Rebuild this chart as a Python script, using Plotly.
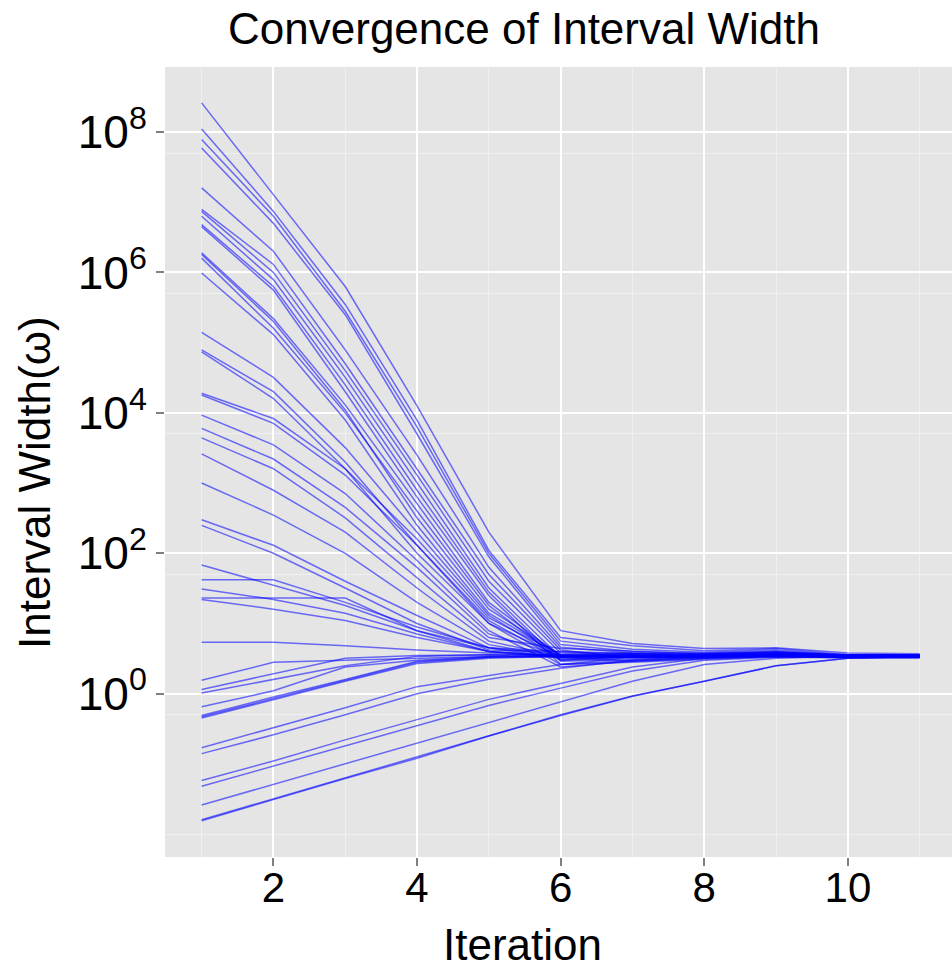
import plotly.graph_objects as go

iterations = [1, 2, 3, 4, 5, 6, 7, 8, 9, 10, 11]

wide_start_runs = [
    [2.6e8, 1.26e7, 6.3e5, 1.26e4, 2.0e2, 7.9, 5.2, 4.4, 4.5, 3.8, 3.7],
    [1.1e8, 7.4e6, 3.5e5, 7.9e3, 1.1e2, 6.3, 4.8, 4.1, 4.4, 3.6, 3.6],
    [7.8e7, 6.3e6, 2.8e5, 6.3e3, 1.0e2, 5.6, 4.3, 3.9, 4.2, 3.5, 3.5],
    [5.9e7, 5.0e6, 2.5e5, 5.0e3, 89, 5.0, 4.0, 3.7, 4.0, 3.4, 3.4],
    [1.6e7, 2.0e6, 7.9e4, 2.5e3, 63, 4.6, 3.8, 3.5, 3.8, 3.5, 3.5],
    [7.9e6, 1.3e6, 5.0e4, 1.6e3, 50, 4.2, 3.2, 3.3, 3.7, 3.3, 3.3],
    [7.4e6, 1.0e6, 4.0e4, 1.3e3, 40, 3.8, 3.6, 3.6, 3.9, 3.6, 3.5],
    [6.3e6, 7.9e5, 3.2e4, 1.0e3, 32, 3.3, 2.9, 3.2, 3.5, 3.3, 3.3],
    [4.8e6, 6.3e5, 2.5e4, 7.9e2, 28, 2.9, 3.1, 3.4, 3.6, 3.4, 3.4],
    [4.5e6, 5.6e5, 2.0e4, 6.3e2, 25, 2.6, 2.8, 3.1, 3.4, 3.2, 3.2],
    [1.9e6, 2.2e5, 1.3e4, 5.0e2, 20, 3.4, 3.7, 3.8, 4.0, 3.6, 3.6],
    [1.8e6, 2.0e5, 1.1e4, 3.2e2, 16, 3.6, 3.5, 3.4, 3.6, 3.4, 3.4],
    [1.6e6, 1.6e5, 1.0e4, 4.0e2, 18, 3.0, 3.3, 3.5, 3.7, 3.5, 3.5],
    [9.8e5, 1.3e5, 7.9e3, 2.5e2, 14, 3.5, 3.4, 3.3, 3.5, 3.3, 3.3],
    [1.4e5, 3.2e4, 3.2e3, 2.0e2, 13, 3.1, 3.3, 3.6, 3.8, 3.5, 3.5],
]

mid_start_runs = [
    [7.9e4, 2.0e4, 2.0e3, 1.3e2, 11, 3.0, 3.4, 3.7, 3.9, 3.5, 3.5],
    [7.4e4, 1.6e4, 1.6e3, 1.0e2, 10, 2.6, 3.0, 3.3, 3.6, 3.4, 3.4],
    [1.9e4, 8.3e3, 1.6e3, 1.6e2, 12, 3.6, 3.8, 3.6, 3.7, 3.5, 3.5],
    [1.8e4, 7.1e3, 1.3e3, 1.3e2, 10, 3.4, 3.5, 3.3, 3.5, 3.4, 3.4],
    [9.3e3, 3.5e3, 7.1e2, 79, 7.9, 2.4, 2.9, 3.2, 3.4, 3.3, 3.3],
    [6.0e3, 2.2e3, 4.5e2, 63, 7.1, 3.5, 3.6, 3.4, 3.6, 3.4, 3.4],
    [4.4e3, 1.6e3, 3.2e2, 45, 6.3, 4.4, 4.0, 3.7, 3.8, 3.5, 3.5],
    [2.6e3, 7.9e2, 2.0e2, 32, 5.6, 3.4, 3.5, 3.4, 3.5, 3.4, 3.4],
    [1.0e3, 3.5e2, 1.0e2, 20, 5.0, 3.3, 3.4, 3.5, 3.6, 3.5, 3.5],
    [3.0e2, 1.3e2, 40, 13, 4.5, 3.2, 3.4, 3.4, 3.5, 3.4, 3.4],
    [2.5e2, 1.0e2, 32, 10, 4.2, 3.9, 3.7, 3.5, 3.6, 3.5, 3.5],
    [68, 35, 18, 7.9, 4.0, 3.5, 3.4, 3.4, 3.5, 3.4, 3.4],
    [42, 42, 20, 8.9, 4.5, 3.6, 3.5, 3.4, 3.6, 3.4, 3.4],
    [31, 22, 14, 7.1, 4.0, 3.3, 3.4, 3.4, 3.5, 3.4, 3.4],
    [23, 23, 23, 7.9, 4.5, 4.0, 3.7, 3.5, 3.6, 3.5, 3.5],
    [22, 16, 11, 6.3, 4.0, 3.4, 3.4, 3.3, 3.5, 3.3, 3.3],
    [5.4, 5.4, 4.8, 4.2, 3.8, 3.5, 3.4, 3.4, 3.5, 3.4, 3.4],
]

narrow_start_runs = [
    [1.55, 2.8, 3.0, 3.2, 3.4, 3.5, 3.4, 3.4, 3.5, 3.4, 3.4],
    [1.15, 1.9, 3.2, 3.5, 3.6, 3.5, 3.4, 3.5, 3.6, 3.5, 3.5],
    [1.02, 1.6, 2.5, 3.4, 3.6, 3.5, 3.4, 3.4, 3.4, 3.4, 3.4],
    [0.65, 1.1, 2.4, 3.0, 3.4, 3.5, 3.4, 3.4, 3.5, 3.4, 3.4],
    [0.49, 0.90, 1.6, 2.9, 3.3, 3.4, 3.3, 3.3, 3.5, 3.3, 3.3],
    [0.47, 0.86, 1.55, 2.8, 3.3, 3.4, 3.4, 3.4, 3.5, 3.4, 3.4],
    [0.45, 0.83, 1.5, 2.7, 3.2, 3.4, 3.4, 3.4, 3.4, 3.4, 3.4],
    [0.17, 0.33, 0.63, 1.26, 1.8, 2.6, 3.3, 3.4, 3.5, 3.4, 3.4],
    [0.14, 0.26, 0.50, 1.0, 1.6, 2.3, 3.0, 3.3, 3.4, 3.4, 3.4],
    [0.058, 0.11, 0.22, 0.43, 0.83, 1.4, 2.4, 3.2, 3.4, 3.4, 3.4],
    [0.048, 0.093, 0.18, 0.35, 0.68, 1.2, 2.1, 3.0, 3.3, 3.4, 3.4],
    [0.026, 0.051, 0.10, 0.20, 0.39, 0.76, 1.5, 2.6, 3.2, 3.4, 3.4],
    [0.016, 0.032, 0.063, 0.126, 0.25, 0.50, 0.93, 1.5, 2.5, 3.2, 3.4],
    [0.0155, 0.031, 0.062, 0.12, 0.25, 0.49, 0.92, 1.5, 2.5, 3.2, 3.4],
]

y_tick_vals = [1, 1e2, 1e4, 1e6, 1e8]
y_tick_text = ["10<sup>0</sup>", "10<sup>2</sup>", "10<sup>4</sup>", "10<sup>6</sup>", "10<sup>8</sup>"]
y_minor_vals = [0.01, 0.5, 50, 5e3, 5e5, 5e7]
x_tick_vals = [2, 4, 6, 8, 10]
x_minor_vals = [1, 3, 5, 7, 9, 11]

FONT = "Liberation Sans, Arial, sans-serif"

fig = go.Figure()
for run in wide_start_runs + mid_start_runs + narrow_start_runs:
    fig.add_trace(go.Scatter(
        x=iterations, y=run, mode="lines",
        line=dict(color="rgba(0,0,255,0.55)", width=1.5),
        showlegend=False, hoverinfo="skip",
    ))

fig.update_layout(
    width=952, height=971,
    margin=dict(l=165, r=0, t=67, b=114),
    paper_bgcolor="white",
    plot_bgcolor="#E5E5E5",
    font=dict(family=FONT, color="black"),
    title=dict(text="Convergence of Interval Width", x=524 / 952, xanchor="center",
               y=1 - 29 / 971, yanchor="middle", yref="container",
               font=dict(size=44, family=FONT, color="black")),
    showlegend=False,
)

fig.update_xaxes(
    range=[0.49, 11.45],
    tickvals=x_tick_vals,
    ticks="outside", ticklen=8, tickwidth=1.5, tickcolor="#7F7F7F",
    tickfont=dict(size=42, color="black"),
    ticklabelstandoff=-14,
    showgrid=True, gridcolor="white", gridwidth=2,
    minor=dict(tickvals=x_minor_vals, showgrid=True, gridcolor="#F0F0F0", gridwidth=1, ticks=""),
    zeroline=False, showline=False,
)

fig.update_yaxes(
    type="log",
    range=[-2.326, 8.926],
    tickvals=y_tick_vals, ticktext=y_tick_text,
    ticks="outside", ticklen=8, tickwidth=1.5, tickcolor="#7F7F7F",
    tickfont=dict(size=46, color="black"),
    showgrid=True, gridcolor="white", gridwidth=2,
    minor=dict(tickvals=y_minor_vals, showgrid=True, gridcolor="#F0F0F0", gridwidth=1, ticks=""),
    zeroline=False, showline=False,
)

fig.add_annotation(text="Iteration", xref="paper", yref="paper",
                   x=(522 - 165) / 787, y=(857 - 945) / 790,
                   xanchor="center", yanchor="middle", showarrow=False,
                   font=dict(size=44, family=FONT, color="black"))
fig.add_annotation(text="Interval Width(\u03c9)", xref="paper", yref="paper",
                   x=(35 - 165) / 787, y=(857 - 483) / 790, textangle=-90,
                   xanchor="center", yanchor="middle", showarrow=False,
                   font=dict(size=44, family=FONT, color="black"))

fig.write_html("out.html")
